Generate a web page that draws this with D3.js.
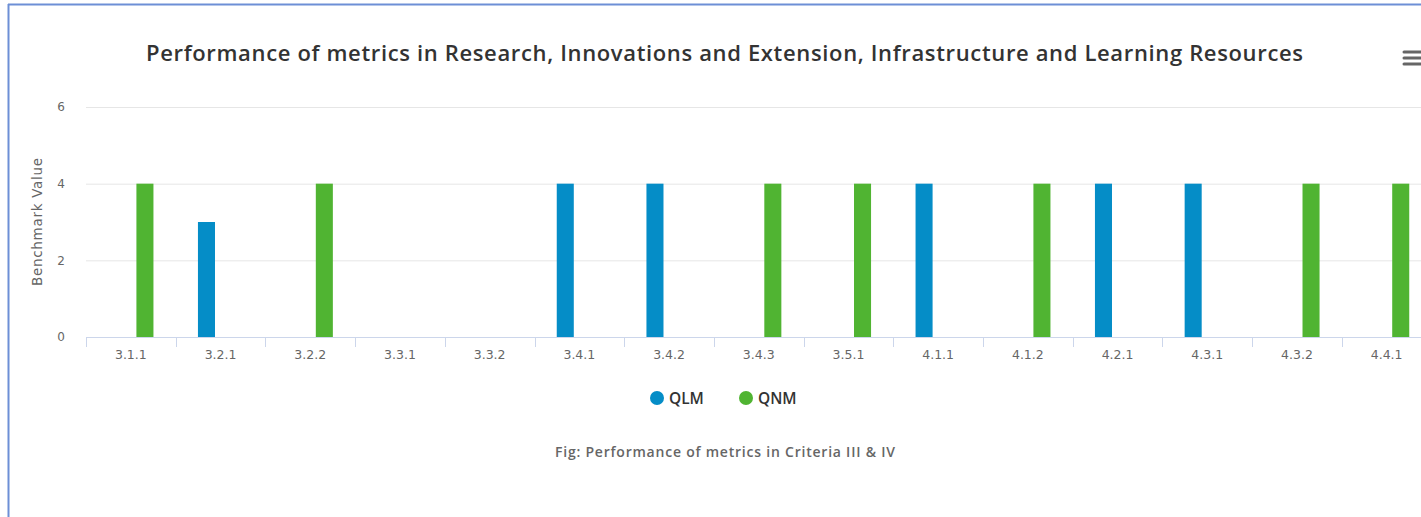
<!DOCTYPE html>
<html lang="en">
<head>
  <meta charset="UTF-8">
  <title>Performance of metrics</title>
  <style>
    body { margin: 0; background: #fff; }
    svg text { font-family: "DejaVu Sans", "Open Sans", sans-serif; }
    .strong { font-family: "Open Sans", "DejaVu Sans", sans-serif !important; font-weight: 600; }
  </style>
</head>
<body>
  <svg id="svg" width="1421" height="517"></svg>
  <script src="https://cdn.jsdelivr.net/npm/d3@7"></script>
  <script>
    const categories = ['3.1.1', '3.2.1', '3.2.2', '3.3.1', '3.3.2', '3.4.1', '3.4.2', '3.4.3',
      '3.5.1', '4.1.1', '4.1.2', '4.2.1', '4.3.1', '4.3.2', '4.4.1']
    const qlm = [null, 3, null, null, null, 4, 4, null, null, 4, null, 4, 4, null, null]
    const qnm = [4, null, 4, null, null, null, null, 4, 4, null, 4, null, null, 4, 4]
    const seriesNames = ['QLM', 'QNM']
    const seriesColors = ['#058dc7', '#50b432']
    const yTicks = [0, 2, 4, 6]

    const svg = d3.select('#svg')
    const margin = { left: 86, top: 107, bottom: 337 }
    const plotRight = 86 + 15 * 89.7

    // frame around the chart container
    svg.append('line').attr('x1', 8.5).attr('x2', 8.5).attr('y1', 4).attr('y2', 517)
      .attr('stroke', '#6d8fd6').attr('stroke-width', 2)
    svg.append('line').attr('x1', 8).attr('x2', 1421).attr('y1', 4.5).attr('y2', 4.5)
      .attr('stroke', '#6d8fd6').attr('stroke-width', 2)

    const x = d3.scaleBand().domain(categories).range([margin.left, plotRight])
    const x1 = d3.scaleBand().domain(seriesNames).range([0, x.bandwidth()])
      .paddingInner(0.395).paddingOuter(0.79)
    const y = d3.scaleLinear().domain([0, 6]).range([margin.bottom, margin.top])

    // grid
    const leftAxis = d3.axisLeft(y).tickValues(yTicks).tickFormat(d3.format('d'))
      .tickSize(-(plotRight - margin.left)).tickPadding(21)
    const gy = svg.append('g').attr('transform', `translate(${margin.left},0)`).call(leftAxis)
    gy.select('.domain').remove()
    gy.selectAll('.tick line').attr('stroke', '#e6e6e6')
    gy.selectAll('.tick text').attr('fill', '#666').style('font-size', '12px')

    // bars
    const rows = categories.map((c, i) => ({ cat: c, QLM: qlm[i], QNM: qnm[i] }))
    seriesNames.forEach((s, si) => {
      svg.append('g').selectAll('rect')
        .data(rows.filter(d => d[s] != null))
        .enter()
        .append('rect')
        .attr('x', d => x(d.cat) + x1(s))
        .attr('y', d => y(d[s]))
        .attr('width', x1.bandwidth())
        .attr('height', d => y(0) - y(d[s]))
        .attr('fill', seriesColors[si])
    })

    // bottom axis
    const bottomAxis = d3.axisBottom(x).tickSize(0).tickPadding(13)
    const gx = svg.append('g').attr('transform', `translate(0,${margin.bottom})`).call(bottomAxis)
    gx.select('.domain').attr('stroke', '#ccd6eb').attr('d', `M${margin.left},0.5H${plotRight}`)
    gx.selectAll('.tick text').attr('fill', '#666').style('font-size', '12.5px')
    svg.append('g').selectAll('line')
      .data(categories)
      .enter()
      .append('line')
      .attr('x1', d => Math.round(x(d)) + 0.5)
      .attr('x2', d => Math.round(x(d)) + 0.5)
      .attr('y1', margin.bottom)
      .attr('y2', margin.bottom + 10)
      .attr('stroke', '#ccd6eb')

    // axis title
    svg.append('text')
      .attr('transform', `translate(42,${(margin.top + margin.bottom) / 2}) rotate(-90)`)
      .attr('text-anchor', 'middle')
      .attr('fill', '#666')
      .style('font-size', '13.5px')
      .attr('textLength', 128)
      .text('Benchmark Value')

    // title
    svg.append('text')
      .attr('class', 'strong')
      .attr('x', 724.5).attr('y', 61)
      .attr('text-anchor', 'middle')
      .attr('fill', '#333')
      .style('font-size', '22px')
      .attr('textLength', 1157)
      .text('Performance of metrics in Research, Innovations and Extension, Infrastructure and Learning Resources')

    // menu icon
    svg.append('g').selectAll('line')
      .data([52, 58, 64])
      .enter()
      .append('line')
      .attr('x1', 1404).attr('x2', 1421)
      .attr('y1', d => d).attr('y2', d => d)
      .attr('stroke', '#666').attr('stroke-width', 3).attr('stroke-linecap', 'round')

    // legend
    const legend = svg.append('g')
    const legendX = [657, 746]
    seriesNames.forEach((s, i) => {
      legend.append('circle').attr('cx', legendX[i]).attr('cy', 398).attr('r', 7).attr('fill', seriesColors[i])
      legend.append('text').attr('class', 'strong').attr('x', legendX[i] + 12).attr('y', 404)
        .attr('fill', '#333').style('font-size', '15.5px')
        .text(s)
    })

    // caption
    svg.append('text')
      .attr('class', 'strong')
      .attr('x', 725).attr('y', 457)
      .attr('text-anchor', 'middle')
      .attr('fill', '#666')
      .style('font-size', '14px')
      .attr('textLength', 340)
      .text('Fig: Performance of metrics in Criteria III & IV')
  </script>
</body>
</html>
